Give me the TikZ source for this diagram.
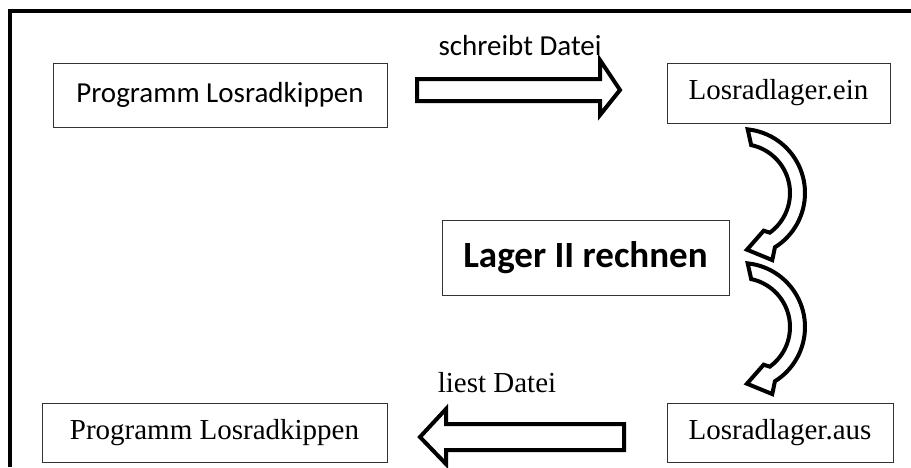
\documentclass[tikz,border=0pt]{standalone}
\usepackage{fontspec}
\setmainfont{Liberation Serif}
\newfontfamily\calibri{Carlito}
\usetikzlibrary{calc}

% bent block arrow round a centre (x,y), pointing back to the left
\newcommand{\bentarrow}[2]{%
  \draw[fatline] plot[domain=-84:58,samples=40] ({#1+64*cos(\x)},{#2+64*sin(\x)})
    -- ({#1+74*cos(65)},{#2+74*sin(65)})
    -- ({#1+57*cos(84)},{#2+57*sin(84)})
    -- ({#1+44*cos(59)},{#2+44*sin(59)})
    -- plot[domain=54:-78,samples=40] ({#1+49*cos(\x)},{#2+49*sin(\x)}) -- cycle;}

\begin{document}
\begin{tikzpicture}[x=1pt,y=-1pt,
    box/.style={draw=black!80,line width=1pt,inner sep=0pt,fill=white,
      font=\fontsize{29}{35}\selectfont},
    calbox/.style={font=\calibri\fontsize{29}{35}\selectfont},
    fatline/.style={draw=black,fill=white,line width=4pt,line join=miter},
    label/.style={anchor=base,inner sep=0pt}]
  \useasboundingbox (0,0) rectangle (911,467);

  % frame
  \draw[line width=4pt,line join=miter] (911,11) -- (10,11) -- (10,467);

  % boxes
  \node[box,calbox,minimum width=334pt,minimum height=64pt] (prog1) at (220,95) {Programm Losradkippen};
  \node[box,minimum width=223pt,minimum height=60pt] (ein) at (778.5,93) {Losradlager.ein};
  \node[box,minimum width=287pt,minimum height=75pt,
    font=\calibri\bfseries\fontsize{37}{44}\selectfont] (lager) at (585.5,257.5) {Lager II rechnen};
  \node[box,minimum width=226pt,minimum height=59pt] (aus) at (780,432.5) {Losradlager.aus};
  \node[box,minimum width=345pt,minimum height=59pt] (prog2) at (214.5,432.5) {Programm Losradkippen};

  % labels over the arrows
  \node[label,calbox] (schreibt) at (520,55) {schreibt Datei};
  \node[label,font=\fontsize{29}{35}\selectfont] (liest) at (497,392) {liest Datei};

  % block arrows
  \draw[fatline] (417,79) -- (600,79) -- (600,60) -- (620,90) -- (600,115)
    -- (600,101) -- (417,101) -- cycle;
  \draw[fatline] (624,424) -- (446,424) -- (446,409) -- (420,437) -- (446,464)
    -- (446,450) -- (624,450) -- cycle;

  % bent arrows
  \bentarrow{741}{193}
  \bentarrow{741}{327}
\end{tikzpicture}
\end{document}
